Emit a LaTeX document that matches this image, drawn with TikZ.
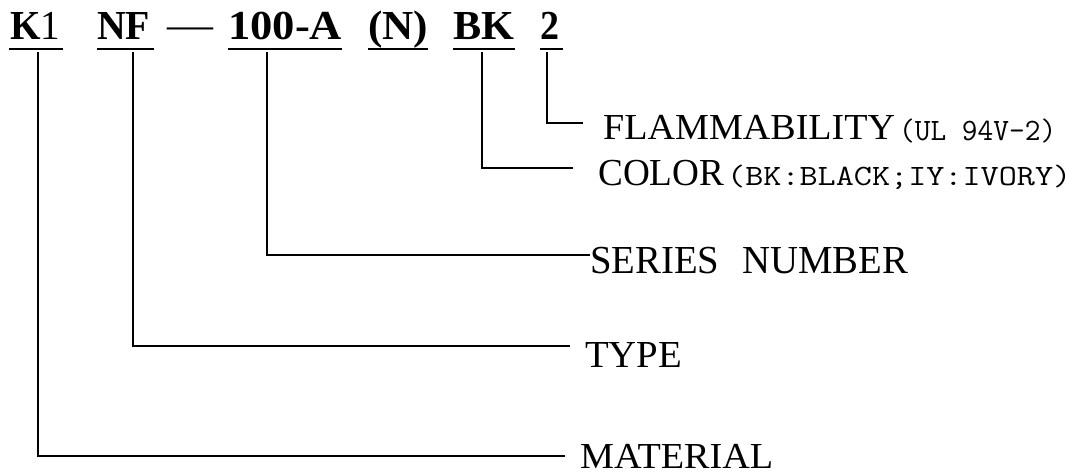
\documentclass[tikz,border=0pt]{standalone}
\usepackage{fontspec}
\usepackage{graphicx}
\setmainfont{Liberation Serif}
\newcommand\fitbox[3]{\resizebox{#1}{#2}{\raisebox{0pt}[\fontcharht\font`X]{#3}}}
\begin{document}
\begin{tikzpicture}[x=1pt,y=-1pt,
  code/.style={inner sep=0pt, anchor=base west, font=\bfseries\fontsize{41}{41}\selectfont},
  lab/.style={inner sep=0pt, anchor=base west, font=\fontsize{38}{38}\selectfont},
  note/.style={inner sep=0pt, anchor=base west, font=\ttfamily\fontsize{28}{28}\selectfont},
  uline/.style={line width=2pt},
  conn/.style={line width=1.5pt}]
\useasboundingbox (0,0) rectangle (1076,474);
% code letters
\node[code] (k1) at (10,39) {\fitbox{50pt}{27pt}{K\textmd{1}}};
\node[code] (nf) at (97,39) {\fitbox{53pt}{27pt}{NF}};
\node[code,font=\fontsize{41}{41}\selectfont] (dash) at (167,38) {\scalebox{1.12}[1]{—}};
\node[code] (num) at (228,39) {\fitbox{114pt}{27pt}{100-A}};
\node[code] (nn) at (368,39) {\fitbox{60pt}{27pt}{(N)}};
\node[code] (bk) at (453,39) {\fitbox{61pt}{27pt}{BK}};
\node[code] (two) at (540,39) {\fitbox{19pt}{27pt}{2}};
% underlines
\draw[uline] ([yshift=-10pt,xshift=-1pt]k1.base west) -- ([yshift=-10pt,xshift=3pt]k1.base east);
\draw[uline] ([yshift=-10pt]nf.base west) -- ([yshift=-10pt,xshift=4pt]nf.base east);
\draw[uline] ([yshift=-10pt]num.base west) -- ([yshift=-10pt]num.base east);
\draw[uline] ([yshift=-10pt]nn.base west) -- ([yshift=-10pt]nn.base east);
\draw[uline] ([yshift=-10pt]bk.base west) -- ([yshift=-10pt,xshift=1pt]bk.base east);
\draw[uline] ([yshift=-10pt]two.base west) -- ([yshift=-10pt,xshift=4pt]two.base east);
% labels
\node[lab] (flam) at (603,139) {\fitbox{292pt}{24pt}{FLAMMABILITY}};
\node[note] (ul) at (899,140) {\fitbox{157pt}{19pt}{(UL 94V-2)}};
\node[lab] (color) at (598,185) {\fitbox{126pt}{25pt}{COLOR}};
\node[note] (bkiy) at (727,185) {\fitbox{344pt}{18pt}{(BK:BLACK;IY:IVORY)}};
\node[lab] (series) at (590,273) {\fitbox{318pt}{26pt}{SERIES\hspace{0.6em}NUMBER}};
\node[lab] (type) at (585,367) {\fitbox{97pt}{25pt}{TYPE}};
\node[lab] (mat) at (580,468) {\fitbox{193pt}{24pt}{MATERIAL}};
% connector ends
\coordinate (s2) at (547,52);
\coordinate (sbk) at (482,52);
\coordinate (snum) at (267,52);
\coordinate (snf) at (133,52);
\coordinate (sk1) at (38,52);
\coordinate (eflam) at (583,123);
\coordinate (ecolor) at (573,168);
\coordinate (eseries) at (590,255);
\coordinate (etype) at (570,346);
\coordinate (emat) at (565,456);
\draw[conn] (s2) |- (eflam);
\draw[conn] (sbk) |- (ecolor);
\draw[conn] (snum) |- (eseries);
\draw[conn] (snf) |- (etype);
\draw[conn] (sk1) |- (emat);
\end{tikzpicture}
\end{document}
